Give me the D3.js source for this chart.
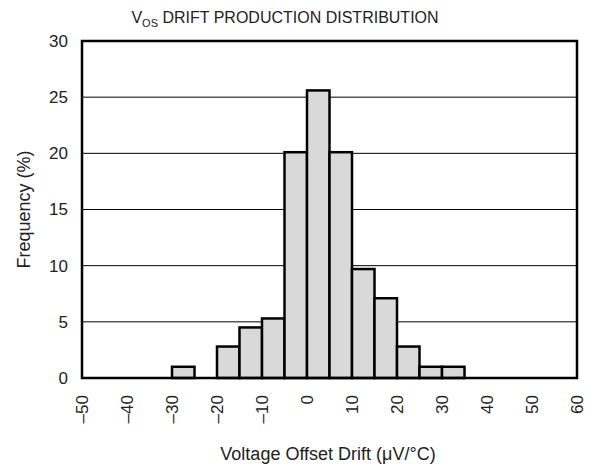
<!DOCTYPE html>
<html>
<head>
<meta charset="utf-8">
<script src="https://cdn.jsdelivr.net/npm/d3@7"></script>
<style>
  body { margin: 0; background: #fff; }
  text { font-family: "Liberation Sans", Arial, sans-serif; fill: #222; }
</style>
</head>
<body>
<svg id="chart" width="600" height="468"></svg>
<script>
// bins are 5 uV/C wide, starting edge listed
var binStarts = [-30, -25, -20, -15, -10, -5, 0, 5, 10, 15, 20, 25, 30];
var freqs = [1, 0, 2.8, 4.5, 5.3, 20.1, 25.6, 20.1, 9.7, 7.1, 2.8, 1, 1];
var binWidth = 5;
var xTicks = [-50, -40, -30, -20, -10, 0, 10, 20, 30, 40, 50, 60];
var yTicks = [0, 5, 10, 15, 20, 25, 30];

var svg = d3.select("#chart");
var plotLeft = 82, plotRight = 577, plotTop = 41, plotBottom = 378;

var x = d3.scaleLinear().domain([-50, 60]).range([plotLeft, plotRight]);
var y = d3.scaleLinear().domain([0, 30]).range([plotBottom, plotTop]);

// grid lines
svg.append("g")
  .selectAll("line")
  .data(yTicks.filter(d => d > 0 && d < 30))
  .enter()
  .append("line")
  .attr("x1", plotLeft)
  .attr("x2", plotRight)
  .attr("y1", d => y(d))
  .attr("y2", d => y(d))
  .attr("stroke", "#000")
  .attr("stroke-width", 1);

// bars
var bins = binStarts.map((b, i) => ({ x0: b, x1: b + binWidth, v: freqs[i] }));
svg.append("g")
  .selectAll("rect")
  .data(bins.filter(d => d.v > 0))
  .enter()
  .append("rect")
  .attr("x", d => x(d.x0))
  .attr("width", d => x(d.x1) - x(d.x0))
  .attr("y", d => y(d.v))
  .attr("height", d => y(0) - y(d.v))
  .attr("fill", "#d9d9d9")
  .attr("stroke", "#000")
  .attr("stroke-width", 2.5);

// frame
svg.append("rect")
  .attr("x", plotLeft)
  .attr("y", plotTop)
  .attr("width", plotRight - plotLeft)
  .attr("height", plotBottom - plotTop)
  .attr("fill", "none")
  .attr("stroke", "#000")
  .attr("stroke-width", 2.5);

// y tick labels
svg.append("g")
  .selectAll("text")
  .data(yTicks)
  .enter()
  .append("text")
  .attr("x", 68)
  .attr("y", d => y(d))
  .attr("dy", "0.35em")
  .attr("text-anchor", "end")
  .style("font-size", "17px")
  .text(d => d);

// x tick labels (rotated)
svg.append("g")
  .selectAll("text")
  .data(xTicks)
  .enter()
  .append("text")
  .attr("transform", d => `translate(${x(d)},395) rotate(-90)`)
  .attr("dy", "0.35em")
  .attr("text-anchor", "end")
  .style("font-size", "17px")
  .text(d => d < 0 ? "\u2013" + Math.abs(d) : d);

// axis titles
svg.append("text")
  .attr("transform", `translate(30,${(plotTop + plotBottom) / 2}) rotate(-90)`)
  .attr("text-anchor", "middle")
  .style("font-size", "18px")
  .text("Frequency (%)");

svg.append("text")
  .attr("x", 328)
  .attr("y", 460)
  .attr("text-anchor", "middle")
  .style("font-size", "18px")
  .text("Voltage Offset Drift (\u03BCV/\u00B0C)");

// title
var title = svg.append("text")
  .attr("x", 285)
  .attr("y", 23)
  .attr("text-anchor", "middle")
  .style("font-size", "16px");
title.append("tspan").text("V");
title.append("tspan").attr("dy", 4).style("font-size", "11px").text("OS");
title.append("tspan").attr("dy", -4).text(" DRIFT PRODUCTION DISTRIBUTION");
</script>
</body>
</html>
